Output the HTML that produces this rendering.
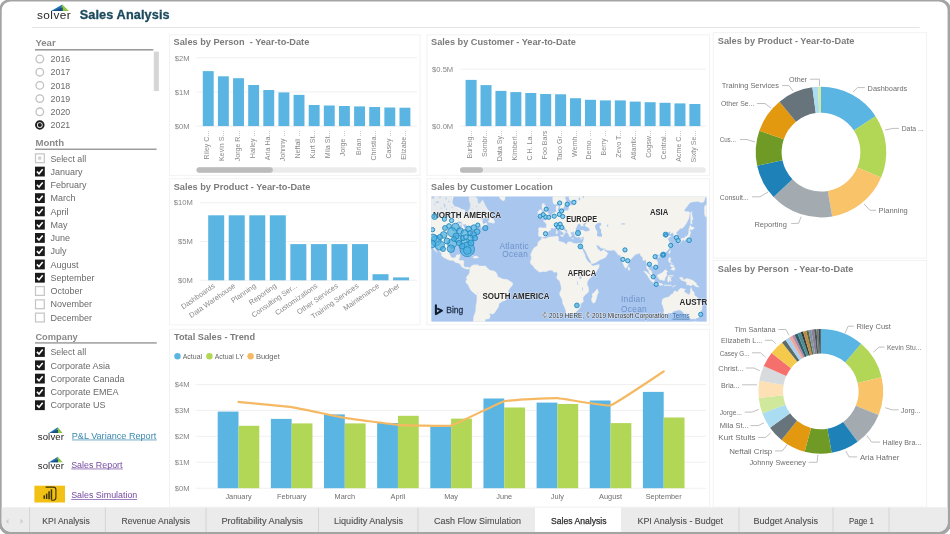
<!DOCTYPE html>
<html><head><meta charset="utf-8"><title>Sales Analysis</title>
<style>
html,body{margin:0;padding:0;background:#fff;}
body{width:950px;height:534px;overflow:hidden;font-family:"Liberation Sans",sans-serif;}
svg{display:block;font-family:"Liberation Sans",sans-serif;will-change:transform;transform:translateZ(0);}
</style></head><body>
<svg width="950" height="534" viewBox="0 0 950 534">
<rect x="-1" y="-1" width="952" height="536" rx="11.5" ry="11.5" fill="#a4a4a4"/>
<rect x="1.7" y="1.5" width="945.9" height="530.2" rx="8.8" ry="8.8" fill="#ffffff"/>
<clipPath id="inner"><rect x="1.7" y="1.5" width="945.9" height="530.2" rx="8.8" ry="8.8"/></clipPath>
<g clip-path="url(#inner)">
<rect x="0" y="507.3" width="950" height="26" fill="#ebebeb"/>
<rect x="535" y="507.3" width="86" height="26" fill="#ffffff"/>
<rect x="29.1" y="507.3" width="1" height="25" fill="#d4d4d4"/>
<rect x="104.8" y="507.3" width="1" height="25" fill="#d4d4d4"/>
<rect x="205.5" y="507.3" width="1" height="25" fill="#d4d4d4"/>
<rect x="318.0" y="507.3" width="1" height="25" fill="#d4d4d4"/>
<rect x="417.5" y="507.3" width="1" height="25" fill="#d4d4d4"/>
<rect x="738.5" y="507.3" width="1" height="25" fill="#d4d4d4"/>
<rect x="832.5" y="507.3" width="1" height="25" fill="#d4d4d4"/>
<rect x="888.5" y="507.3" width="1" height="25" fill="#d4d4d4"/>
<text x="42.25" y="524.00" font-size="9.0" fill="#505050" font-weight="normal" text-anchor="start" textLength="47.5" lengthAdjust="spacingAndGlyphs" stroke="#505050" stroke-width="0.12">KPI Analysis</text>
<text x="121.50" y="524.00" font-size="9.0" fill="#505050" font-weight="normal" text-anchor="start" textLength="68.5" lengthAdjust="spacingAndGlyphs" stroke="#505050" stroke-width="0.12">Revenue Analysis</text>
<text x="221.40" y="524.00" font-size="9.0" fill="#505050" font-weight="normal" text-anchor="start" textLength="81.6" lengthAdjust="spacingAndGlyphs" stroke="#505050" stroke-width="0.12">Profitability Analysis</text>
<text x="334.00" y="524.00" font-size="9.0" fill="#505050" font-weight="normal" text-anchor="start" textLength="69" lengthAdjust="spacingAndGlyphs" stroke="#505050" stroke-width="0.12">Liquidity Analysis</text>
<text x="434.00" y="524.00" font-size="9.0" fill="#505050" font-weight="normal" text-anchor="start" textLength="87" lengthAdjust="spacingAndGlyphs" stroke="#505050" stroke-width="0.12">Cash Flow Simulation</text>
<text x="551.00" y="524.00" font-size="9.0" fill="#2a2a2a" font-weight="normal" text-anchor="start" textLength="55.5" lengthAdjust="spacingAndGlyphs" stroke="#2a2a2a" stroke-width="0.25">Sales Analysis</text>
<text x="637.50" y="524.00" font-size="9.0" fill="#505050" font-weight="normal" text-anchor="start" textLength="85.5" lengthAdjust="spacingAndGlyphs" stroke="#505050" stroke-width="0.12">KPI Analysis - Budget</text>
<text x="753.50" y="524.00" font-size="9.0" fill="#505050" font-weight="normal" text-anchor="start" textLength="64.5" lengthAdjust="spacingAndGlyphs" stroke="#505050" stroke-width="0.12">Budget Analysis</text>
<text x="849.00" y="524.00" font-size="9.0" fill="#505050" font-weight="normal" text-anchor="start" textLength="25" lengthAdjust="spacingAndGlyphs" stroke="#505050" stroke-width="0.12">Page 1</text>
<path d="M8.5 518.7 l-2.8 2.6 l2.8 2.6z" fill="#cfcfcf"/>
<path d="M20.5 518.7 l2.8 2.6 l-2.8 2.6z" fill="#cfcfcf"/>
</g>
<text x="37" y="19.2" font-size="11.8" fill="#262626" letter-spacing="0.45">solver</text>
<path d="M51.00 10.90 L62.40 4.40 L63.29 10.90Z" fill="#2173b5"/>
<path d="M62.40 4.40 L68.80 10.90 L60.26 10.90Z" fill="#8cc540"/>
<path d="M52.78 10.90 L62.76 7.33 L62.75 10.90Z" fill="#1c4f80"/>
<text x="79.70" y="19.20" font-size="12.7" fill="#1b495c" font-weight="bold" text-anchor="start" stroke="#1b495c" stroke-width="0.3" letter-spacing="0.12">Sales Analysis</text>
<rect x="32" y="27" width="887.6" height="1" fill="#e2e4e6"/>
<text x="35.40" y="45.50" font-size="9.6" fill="#8a8a8a" font-weight="bold" text-anchor="start" >Year</text>
<rect x="35" y="49.15" width="118.3" height="1.35" fill="#8a8a8a"/>
<rect x="153.8" y="51.6" width="5.1" height="39.5" fill="#d6d6d6"/>
<circle cx="39.8" cy="59" r="3.8" fill="#fff" stroke="#c0c0c0" stroke-width="1.3"/>
<text x="50.60" y="62.20" font-size="8.8" fill="#6a6a6a" font-weight="normal" text-anchor="start" >2016</text>
<circle cx="39.8" cy="72.2" r="3.8" fill="#fff" stroke="#c0c0c0" stroke-width="1.3"/>
<text x="50.60" y="75.40" font-size="8.8" fill="#6a6a6a" font-weight="normal" text-anchor="start" >2017</text>
<circle cx="39.8" cy="85.4" r="3.8" fill="#fff" stroke="#c0c0c0" stroke-width="1.3"/>
<text x="50.60" y="88.60" font-size="8.8" fill="#6a6a6a" font-weight="normal" text-anchor="start" >2018</text>
<circle cx="39.8" cy="98.6" r="3.8" fill="#fff" stroke="#c0c0c0" stroke-width="1.3"/>
<text x="50.60" y="101.80" font-size="8.8" fill="#6a6a6a" font-weight="normal" text-anchor="start" >2019</text>
<circle cx="39.8" cy="111.8" r="3.8" fill="#fff" stroke="#c0c0c0" stroke-width="1.3"/>
<text x="50.60" y="115.00" font-size="8.8" fill="#6a6a6a" font-weight="normal" text-anchor="start" >2020</text>
<circle cx="39.8" cy="125" r="3.8" fill="#fff" stroke="#1e1e1e" stroke-width="1.9"/>
<circle cx="39.8" cy="125" r="2.1" fill="#1e1e1e"/>
<text x="50.60" y="128.20" font-size="8.8" fill="#6a6a6a" font-weight="normal" text-anchor="start" >2021</text>
<text x="35.40" y="146.30" font-size="9.6" fill="#8a8a8a" font-weight="bold" text-anchor="start" >Month</text>
<rect x="35" y="148.6" width="121.6" height="1.25" fill="#8a8a8a"/>
<rect x="35.5" y="153.9" width="8.8" height="8.8" fill="#fff" stroke="#c6c6c6" stroke-width="1.25"/>
<rect x="38.2" y="156.6" width="3" height="3" fill="#cdcdcd"/>
<text x="50.40" y="161.50" font-size="8.8" fill="#6a6a6a" font-weight="normal" text-anchor="start" >Select all</text>
<rect x="35" y="166.67000000000002" width="9.8" height="9.8" fill="#1a1a1a"/>
<path d="M36.9 171.47000000000003 l2.1 2.2 l3.7 -4.5" fill="none" stroke="#fff" stroke-width="1.6"/>
<text x="50.40" y="174.77" font-size="9.0" fill="#6a6a6a" font-weight="normal" text-anchor="start" >January</text>
<rect x="35" y="179.94" width="9.8" height="9.8" fill="#1a1a1a"/>
<path d="M36.9 184.74 l2.1 2.2 l3.7 -4.5" fill="none" stroke="#fff" stroke-width="1.6"/>
<text x="50.40" y="188.04" font-size="9.0" fill="#6a6a6a" font-weight="normal" text-anchor="start" >February</text>
<rect x="35" y="193.21" width="9.8" height="9.8" fill="#1a1a1a"/>
<path d="M36.9 198.01000000000002 l2.1 2.2 l3.7 -4.5" fill="none" stroke="#fff" stroke-width="1.6"/>
<text x="50.40" y="201.31" font-size="9.0" fill="#6a6a6a" font-weight="normal" text-anchor="start" >March</text>
<rect x="35" y="206.48" width="9.8" height="9.8" fill="#1a1a1a"/>
<path d="M36.9 211.28 l2.1 2.2 l3.7 -4.5" fill="none" stroke="#fff" stroke-width="1.6"/>
<text x="50.40" y="214.58" font-size="9.0" fill="#6a6a6a" font-weight="normal" text-anchor="start" >April</text>
<rect x="35" y="219.75" width="9.8" height="9.8" fill="#1a1a1a"/>
<path d="M36.9 224.55 l2.1 2.2 l3.7 -4.5" fill="none" stroke="#fff" stroke-width="1.6"/>
<text x="50.40" y="227.85" font-size="9.0" fill="#6a6a6a" font-weight="normal" text-anchor="start" >May</text>
<rect x="35" y="233.02" width="9.8" height="9.8" fill="#1a1a1a"/>
<path d="M36.9 237.82000000000002 l2.1 2.2 l3.7 -4.5" fill="none" stroke="#fff" stroke-width="1.6"/>
<text x="50.40" y="241.12" font-size="9.0" fill="#6a6a6a" font-weight="normal" text-anchor="start" >June</text>
<rect x="35" y="246.29" width="9.8" height="9.8" fill="#1a1a1a"/>
<path d="M36.9 251.09 l2.1 2.2 l3.7 -4.5" fill="none" stroke="#fff" stroke-width="1.6"/>
<text x="50.40" y="254.39" font-size="9.0" fill="#6a6a6a" font-weight="normal" text-anchor="start" >July</text>
<rect x="35" y="259.56000000000006" width="9.8" height="9.8" fill="#1a1a1a"/>
<path d="M36.9 264.36000000000007 l2.1 2.2 l3.7 -4.5" fill="none" stroke="#fff" stroke-width="1.6"/>
<text x="50.40" y="267.66" font-size="9.0" fill="#6a6a6a" font-weight="normal" text-anchor="start" >August</text>
<rect x="35" y="272.83000000000004" width="9.8" height="9.8" fill="#1a1a1a"/>
<path d="M36.9 277.63000000000005 l2.1 2.2 l3.7 -4.5" fill="none" stroke="#fff" stroke-width="1.6"/>
<text x="50.40" y="280.93" font-size="9.0" fill="#6a6a6a" font-weight="normal" text-anchor="start" >September</text>
<rect x="35.5" y="286.6" width="8.8" height="8.8" fill="#fff" stroke="#c6c6c6" stroke-width="1.25"/>
<text x="50.40" y="294.20" font-size="9.0" fill="#6a6a6a" font-weight="normal" text-anchor="start" >October</text>
<rect x="35.5" y="299.87" width="8.8" height="8.8" fill="#fff" stroke="#c6c6c6" stroke-width="1.25"/>
<text x="50.40" y="307.47" font-size="9.0" fill="#6a6a6a" font-weight="normal" text-anchor="start" >November</text>
<rect x="35.5" y="313.14000000000004" width="8.8" height="8.8" fill="#fff" stroke="#c6c6c6" stroke-width="1.25"/>
<text x="50.40" y="320.74" font-size="9.0" fill="#6a6a6a" font-weight="normal" text-anchor="start" >December</text>
<text x="35.40" y="340.00" font-size="9.3" fill="#8a8a8a" font-weight="bold" text-anchor="start" >Company</text>
<rect x="35" y="342.3" width="121.8" height="1.25" fill="#8a8a8a"/>
<rect x="35" y="347.1" width="9.8" height="9.8" fill="#1a1a1a"/>
<path d="M36.9 351.90000000000003 l2.1 2.2 l3.7 -4.5" fill="none" stroke="#fff" stroke-width="1.6"/>
<text x="50.40" y="355.20" font-size="8.8" fill="#6a6a6a" font-weight="normal" text-anchor="start" >Select all</text>
<rect x="35" y="360.40000000000003" width="9.8" height="9.8" fill="#1a1a1a"/>
<path d="M36.9 365.20000000000005 l2.1 2.2 l3.7 -4.5" fill="none" stroke="#fff" stroke-width="1.6"/>
<text x="50.40" y="368.50" font-size="9.0" fill="#6a6a6a" font-weight="normal" text-anchor="start" >Corporate Asia</text>
<rect x="35" y="373.70000000000005" width="9.8" height="9.8" fill="#1a1a1a"/>
<path d="M36.9 378.50000000000006 l2.1 2.2 l3.7 -4.5" fill="none" stroke="#fff" stroke-width="1.6"/>
<text x="50.40" y="381.80" font-size="9.0" fill="#6a6a6a" font-weight="normal" text-anchor="start" >Corporate Canada</text>
<rect x="35" y="387.0" width="9.8" height="9.8" fill="#1a1a1a"/>
<path d="M36.9 391.8 l2.1 2.2 l3.7 -4.5" fill="none" stroke="#fff" stroke-width="1.6"/>
<text x="50.40" y="395.10" font-size="9.0" fill="#6a6a6a" font-weight="normal" text-anchor="start" >Corporate EMEA</text>
<rect x="35" y="400.3" width="9.8" height="9.8" fill="#1a1a1a"/>
<path d="M36.9 405.1 l2.1 2.2 l3.7 -4.5" fill="none" stroke="#fff" stroke-width="1.6"/>
<text x="50.40" y="408.40" font-size="9.0" fill="#6a6a6a" font-weight="normal" text-anchor="start" >Corporate US</text>
<text x="37.7" y="439.6" font-size="9.6" fill="#262626" letter-spacing="0.15">solver</text>
<path d="M49.00 433.00 L57.80 427.20 L58.48 433.00Z" fill="#2173b5"/>
<path d="M57.80 427.20 L62.60 433.00 L56.07 433.00Z" fill="#8cc540"/>
<path d="M50.36 433.00 L58.07 429.81 L57.98 433.00Z" fill="#1c4f80"/>
<text x="71.80" y="438.80" font-size="9.1" fill="#3a88ad" font-weight="normal" text-anchor="start" >P&amp;L Variance Report</text>
<rect x="71.8" y="439.6" width="85" height="0.7" fill="#3a88ad"/>
<text x="37.7" y="468.6" font-size="9.6" fill="#262626" letter-spacing="0.15">solver</text>
<path d="M49.00 462.30 L57.80 456.70 L58.48 462.30Z" fill="#2173b5"/>
<path d="M57.80 456.70 L62.60 462.30 L56.07 462.30Z" fill="#8cc540"/>
<path d="M50.36 462.30 L58.07 459.22 L57.98 462.30Z" fill="#1c4f80"/>
<text x="71.20" y="467.80" font-size="8.9" fill="#7449a0" font-weight="normal" text-anchor="start" >Sales Report</text>
<rect x="71.2" y="468.6" width="51.5" height="0.7" fill="#7449a0"/>
<rect x="34.4" y="485.7" width="30.6" height="16.8" fill="#f2c114"/>
<path d="M45.6 487.1 H53.3 a2.6 2.6 0 0 1 2.6 2.6 V497.6 a2.6 2.6 0 0 1 -2.6 2.6 H51.2" fill="none" stroke="#3b3205" stroke-width="1.1"/>
<g fill="#3b3205"><rect x="43.5" y="495.4" width="1.5" height="3.4"/><rect x="45.9" y="493.6" width="1.5" height="5.4"/><rect x="48.3" y="491.3" width="1.5" height="8"/><rect x="50.7" y="489.3" width="1.5" height="10.3"/></g>
<text x="71.20" y="498.40" font-size="8.9" fill="#7449a0" font-weight="normal" text-anchor="start" >Sales Simulation</text>
<rect x="71.2" y="499.2" width="66" height="0.7" fill="#7449a0"/>
<rect x="169.5" y="34.8" width="250.5" height="140.60000000000002" fill="#fff" stroke="#f2f2f2" stroke-width="1"/>
<text x="173.60" y="45.00" font-size="9.2" fill="#7b7b7b" font-weight="bold" text-anchor="start" >Sales by Person  - Year-to-Date</text>
<rect x="196" y="57.2" width="221" height="1" fill="#f0f0f0"/>
<text x="189.60" y="60.50" font-size="7.6" fill="#858585" font-weight="normal" text-anchor="end" >$2M</text>
<rect x="196" y="91.4" width="221" height="1" fill="#f0f0f0"/>
<text x="189.60" y="94.70" font-size="7.6" fill="#858585" font-weight="normal" text-anchor="end" >$1M</text>
<rect x="196" y="125.6" width="221" height="1" fill="#f0f0f0"/>
<text x="189.60" y="128.90" font-size="7.6" fill="#858585" font-weight="normal" text-anchor="end" >$0M</text>
<rect x="202.80" y="71.1" width="10.9" height="55.00" fill="#5bb5e2"/>
<text transform="translate(209.25,130.6) rotate(-90)" font-size="7.1" fill="#8a8a8a" text-anchor="end">Riley C...</text>
<rect x="217.93" y="76.3" width="10.9" height="49.80" fill="#5bb5e2"/>
<text transform="translate(224.38,130.6) rotate(-90)" font-size="7.1" fill="#8a8a8a" text-anchor="end">Kevin S...</text>
<rect x="233.06" y="78.2" width="10.9" height="47.90" fill="#5bb5e2"/>
<text transform="translate(239.51,130.6) rotate(-90)" font-size="7.1" fill="#8a8a8a" text-anchor="end">Jorge R...</text>
<rect x="248.19" y="85" width="10.9" height="41.10" fill="#5bb5e2"/>
<text transform="translate(254.64,130.6) rotate(-90)" font-size="7.1" fill="#8a8a8a" text-anchor="end">Hailey ...</text>
<rect x="263.32" y="90" width="10.9" height="36.10" fill="#5bb5e2"/>
<text transform="translate(269.77,130.6) rotate(-90)" font-size="7.1" fill="#8a8a8a" text-anchor="end">Aria Ha...</text>
<rect x="278.45" y="92.4" width="10.9" height="33.70" fill="#5bb5e2"/>
<text transform="translate(284.90,130.6) rotate(-90)" font-size="7.1" fill="#8a8a8a" text-anchor="end">Johnny ...</text>
<rect x="293.58" y="94.9" width="10.9" height="31.20" fill="#5bb5e2"/>
<text transform="translate(300.03,130.6) rotate(-90)" font-size="7.1" fill="#8a8a8a" text-anchor="end">Neftali ...</text>
<rect x="308.71" y="105" width="10.9" height="21.10" fill="#5bb5e2"/>
<text transform="translate(315.16,130.6) rotate(-90)" font-size="7.1" fill="#8a8a8a" text-anchor="end">Kurt St...</text>
<rect x="323.84" y="105.5" width="10.9" height="20.60" fill="#5bb5e2"/>
<text transform="translate(330.29,130.6) rotate(-90)" font-size="7.1" fill="#8a8a8a" text-anchor="end">Mila St...</text>
<rect x="338.97" y="106" width="10.9" height="20.10" fill="#5bb5e2"/>
<text transform="translate(345.42,130.6) rotate(-90)" font-size="7.1" fill="#8a8a8a" text-anchor="end">Jorge ...</text>
<rect x="354.10" y="106.4" width="10.9" height="19.70" fill="#5bb5e2"/>
<text transform="translate(360.55,130.6) rotate(-90)" font-size="7.1" fill="#8a8a8a" text-anchor="end">Brian ...</text>
<rect x="369.23" y="107" width="10.9" height="19.10" fill="#5bb5e2"/>
<text transform="translate(375.68,130.6) rotate(-90)" font-size="7.1" fill="#8a8a8a" text-anchor="end">Christia...</text>
<rect x="384.36" y="107.5" width="10.9" height="18.60" fill="#5bb5e2"/>
<text transform="translate(390.81,130.6) rotate(-90)" font-size="7.1" fill="#8a8a8a" text-anchor="end">Casey ...</text>
<rect x="399.49" y="107.7" width="10.9" height="18.40" fill="#5bb5e2"/>
<text transform="translate(405.94,130.6) rotate(-90)" font-size="7.1" fill="#8a8a8a" text-anchor="end">Elizabe...</text>
<rect x="196.5" y="167.3" width="220.3" height="5.4" rx="2.7" fill="#ebebeb"/>
<rect x="196.5" y="167.3" width="76.3" height="5.4" rx="2.7" fill="#bcbcbc"/>
<rect x="427" y="34.8" width="282.5" height="140.60000000000002" fill="#fff" stroke="#f2f2f2" stroke-width="1"/>
<text x="431.00" y="45.00" font-size="9.2" fill="#7b7b7b" font-weight="bold" text-anchor="start" >Sales by Customer - Year-to-Date</text>
<rect x="460" y="68.7" width="246" height="1" fill="#f0f0f0"/>
<text x="453.20" y="72.00" font-size="7.6" fill="#858585" font-weight="normal" text-anchor="end" >$0.5M</text>
<rect x="460" y="125.6" width="246" height="1" fill="#f0f0f0"/>
<text x="453.20" y="128.90" font-size="7.6" fill="#858585" font-weight="normal" text-anchor="end" >$0.0M</text>
<rect x="465.60" y="79.9" width="11" height="46.20" fill="#5bb5e2"/>
<text transform="translate(472.10,130.6) rotate(-90)" font-size="7.1" fill="#8a8a8a" text-anchor="end">Burleig...</text>
<rect x="480.52" y="85.1" width="11" height="41.00" fill="#5bb5e2"/>
<text transform="translate(487.02,130.6) rotate(-90)" font-size="7.1" fill="#8a8a8a" text-anchor="end">Sombr...</text>
<rect x="495.44" y="90.9" width="11" height="35.20" fill="#5bb5e2"/>
<text transform="translate(501.94,130.6) rotate(-90)" font-size="7.1" fill="#8a8a8a" text-anchor="end">Data Sy...</text>
<rect x="510.36" y="92.1" width="11" height="34.00" fill="#5bb5e2"/>
<text transform="translate(516.86,130.6) rotate(-90)" font-size="7.1" fill="#8a8a8a" text-anchor="end">Kimberl...</text>
<rect x="525.28" y="93" width="11" height="33.10" fill="#5bb5e2"/>
<text transform="translate(531.78,130.6) rotate(-90)" font-size="7.1" fill="#8a8a8a" text-anchor="end">C.H. La...</text>
<rect x="540.20" y="94" width="11" height="32.10" fill="#5bb5e2"/>
<text transform="translate(546.70,130.6) rotate(-90)" font-size="7.1" fill="#8a8a8a" text-anchor="end">Foo Bars</text>
<rect x="555.12" y="94.3" width="11" height="31.80" fill="#5bb5e2"/>
<text transform="translate(561.62,130.6) rotate(-90)" font-size="7.1" fill="#8a8a8a" text-anchor="end">Taco Gr...</text>
<rect x="570.04" y="98.2" width="11" height="27.90" fill="#5bb5e2"/>
<text transform="translate(576.54,130.6) rotate(-90)" font-size="7.1" fill="#8a8a8a" text-anchor="end">Wemh...</text>
<rect x="584.96" y="99.8" width="11" height="26.30" fill="#5bb5e2"/>
<text transform="translate(591.46,130.6) rotate(-90)" font-size="7.1" fill="#8a8a8a" text-anchor="end">Demo, ...</text>
<rect x="599.88" y="100.4" width="11" height="25.70" fill="#5bb5e2"/>
<text transform="translate(606.38,130.6) rotate(-90)" font-size="7.1" fill="#8a8a8a" text-anchor="end">Berry ...</text>
<rect x="614.80" y="100.4" width="11" height="25.70" fill="#5bb5e2"/>
<text transform="translate(621.30,130.6) rotate(-90)" font-size="7.1" fill="#8a8a8a" text-anchor="end">Zevo T...</text>
<rect x="629.72" y="101.6" width="11" height="24.50" fill="#5bb5e2"/>
<text transform="translate(636.22,130.6) rotate(-90)" font-size="7.1" fill="#8a8a8a" text-anchor="end">Atlantic...</text>
<rect x="644.64" y="102.2" width="11" height="23.90" fill="#5bb5e2"/>
<text transform="translate(651.14,130.6) rotate(-90)" font-size="7.1" fill="#8a8a8a" text-anchor="end">Cogsw...</text>
<rect x="659.56" y="102.8" width="11" height="23.30" fill="#5bb5e2"/>
<text transform="translate(666.06,130.6) rotate(-90)" font-size="7.1" fill="#8a8a8a" text-anchor="end">Central...</text>
<rect x="674.48" y="103.4" width="11" height="22.70" fill="#5bb5e2"/>
<text transform="translate(680.98,130.6) rotate(-90)" font-size="7.1" fill="#8a8a8a" text-anchor="end">Acme C...</text>
<rect x="689.40" y="104" width="11" height="22.10" fill="#5bb5e2"/>
<text transform="translate(695.90,130.6) rotate(-90)" font-size="7.1" fill="#8a8a8a" text-anchor="end">Sixty Se...</text>
<rect x="460" y="167.3" width="245.8" height="5.4" rx="2.7" fill="#ebebeb"/>
<rect x="460" y="167.3" width="23" height="5.4" rx="2.7" fill="#bcbcbc"/>
<rect x="169.5" y="178.7" width="250.5" height="146.10000000000002" fill="#fff" stroke="#f2f2f2" stroke-width="1"/>
<text x="173.70" y="189.80" font-size="9.2" fill="#7b7b7b" font-weight="bold" text-anchor="start" >Sales by Product - Year-to-Date</text>
<rect x="200" y="202.2" width="217" height="1" fill="#f0f0f0"/>
<text x="192.80" y="205.20" font-size="7.6" fill="#858585" font-weight="normal" text-anchor="end" >$10M</text>
<rect x="200" y="241.0" width="217" height="1" fill="#f0f0f0"/>
<text x="192.80" y="244.00" font-size="7.6" fill="#858585" font-weight="normal" text-anchor="end" >$5M</text>
<rect x="200" y="279.8" width="217" height="1" fill="#f0f0f0"/>
<text x="192.80" y="282.80" font-size="7.6" fill="#858585" font-weight="normal" text-anchor="end" >$0M</text>
<rect x="208.20" y="215.3" width="16" height="65.00" fill="#5bb5e2"/>
<text transform="translate(215.40,287) rotate(-35)" font-size="7.3" fill="#8a8a8a" text-anchor="end">Dashboards</text>
<rect x="228.74" y="215.3" width="16" height="65.00" fill="#5bb5e2"/>
<text transform="translate(235.94,287) rotate(-35)" font-size="7.3" fill="#8a8a8a" text-anchor="end">Data Warehouse</text>
<rect x="249.28" y="215.3" width="16" height="65.00" fill="#5bb5e2"/>
<text transform="translate(256.48,287) rotate(-35)" font-size="7.3" fill="#8a8a8a" text-anchor="end">Planning</text>
<rect x="269.82" y="215.3" width="16" height="65.00" fill="#5bb5e2"/>
<text transform="translate(277.02,287) rotate(-35)" font-size="7.3" fill="#8a8a8a" text-anchor="end">Reporting</text>
<rect x="290.36" y="244.1" width="16" height="36.20" fill="#5bb5e2"/>
<text transform="translate(297.56,287) rotate(-35)" font-size="7.3" fill="#8a8a8a" text-anchor="end">Consulting Ser...</text>
<rect x="310.90" y="244.1" width="16" height="36.20" fill="#5bb5e2"/>
<text transform="translate(318.10,287) rotate(-35)" font-size="7.3" fill="#8a8a8a" text-anchor="end">Customizations</text>
<rect x="331.44" y="244.1" width="16" height="36.20" fill="#5bb5e2"/>
<text transform="translate(338.64,287) rotate(-35)" font-size="7.3" fill="#8a8a8a" text-anchor="end">Other Services</text>
<rect x="351.98" y="244.1" width="16" height="36.20" fill="#5bb5e2"/>
<text transform="translate(359.18,287) rotate(-35)" font-size="7.3" fill="#8a8a8a" text-anchor="end">Training Services</text>
<rect x="372.52" y="274.2" width="16" height="6.10" fill="#5bb5e2"/>
<text transform="translate(379.72,287) rotate(-35)" font-size="7.3" fill="#8a8a8a" text-anchor="end">Maintenance</text>
<rect x="393.06" y="277.4" width="16" height="2.90" fill="#5bb5e2"/>
<text transform="translate(400.26,287) rotate(-35)" font-size="7.3" fill="#8a8a8a" text-anchor="end">Other</text>
<rect x="427" y="178.7" width="282.5" height="146.10000000000002" fill="#fff" stroke="#f2f2f2" stroke-width="1"/>
<text x="431.10" y="190.30" font-size="9.05" fill="#7b7b7b" font-weight="bold" text-anchor="start" >Sales by Customer Location</text>
<clipPath id="mapclip"><rect x="431.2" y="196.3" width="275.59999999999997" height="125.5"/></clipPath>
<g clip-path="url(#mapclip)">
<rect x="431.2" y="196.3" width="275.59999999999997" height="125.5" fill="#a8c6ee"/>
<path d="M428.9 193.2 L454.0 193.2 L452.5 200.6 L452.2 203.0 L454.6 206.4 L458.1 207.3 L462.1 209.5 L464.8 209.8 L465.1 213.4 L466.6 216.2 L468.1 215.9 L468.1 211.7 L470.2 208.2 L470.7 204.5 L469.2 200.6 L469.2 195.8 L474.2 195.8 L477.2 198.6 L477.7 202.6 L479.2 204.1 L481.7 201.6 L482.7 200.0 L485.3 205.5 L487.3 209.1 L489.8 211.7 L491.6 215.1 L490.3 216.2 L487.3 218.0 L481.2 218.0 L480.2 219.4 L482.7 219.8 L482.2 222.1 L483.3 224.3 L486.3 222.8 L487.3 224.3 L483.8 226.5 L481.2 227.9 L481.2 225.7 L480.2 226.0 L477.2 227.9 L476.5 229.9 L477.2 230.3 L473.2 231.9 L471.7 235.2 L471.2 238.9 L469.2 240.4 L466.1 243.1 L466.9 248.3 L466.8 250.4 L465.3 249.5 L464.4 247.4 L463.1 244.9 L461.1 244.6 L457.6 244.7 L457.8 246.1 L455.6 245.5 L452.5 245.5 L449.8 247.8 L449.5 250.6 L449.2 253.6 L451.0 257.1 L452.5 258.0 L455.6 257.6 L456.6 255.0 L460.1 254.4 L459.6 257.6 L458.6 260.3 L463.1 260.5 L463.9 261.3 L463.6 265.5 L465.1 267.5 L467.6 267.0 L469.7 268.0 L469.7 268.5 L467.1 269.2 L464.1 268.2 L461.3 266.5 L459.6 263.4 L455.6 262.4 L453.0 260.3 L450.5 260.6 L447.0 259.2 L443.0 257.1 L441.5 255.5 L441.5 253.3 L438.9 250.6 L437.4 248.3 L434.9 246.1 L433.9 243.7 L432.1 243.1 L432.4 244.9 L434.4 247.8 L436.4 251.1 L437.4 252.8 L434.9 250.6 L432.9 247.8 L431.4 245.5 L428.9 243.7Z M488.1 222.0 L491.3 222.8 L494.3 223.3 L494.6 222.0 L493.8 219.5 L491.5 218.3 L491.8 215.9 L490.0 217.2 L488.8 220.6Z M498.4 193.2 L499.9 198.6 L503.4 201.0 L504.6 200.0 L505.9 193.2Z M462.1 254.0 L465.1 252.7 L467.1 252.8 L470.2 254.4 L473.0 255.8 L469.7 256.1 L469.2 255.3 L466.1 253.9 L463.1 254.1Z M472.8 257.7 L474.4 256.1 L477.2 256.3 L478.8 257.5 L476.7 258.0 L475.2 258.2Z M469.7 268.0 L471.7 265.7 L475.2 264.4 L475.7 265.5 L477.2 264.4 L479.2 266.0 L483.3 266.0 L485.3 265.8 L487.3 268.0 L490.3 270.5 L493.3 270.7 L495.8 272.1 L497.4 275.1 L497.4 276.6 L499.4 277.6 L502.9 279.1 L507.4 279.6 L510.4 281.6 L512.5 282.7 L512.7 284.7 L510.4 287.7 L508.4 290.3 L508.4 294.5 L506.9 298.2 L505.4 300.4 L502.4 301.3 L498.9 303.7 L498.7 306.6 L495.3 311.8 L493.3 314.0 L490.3 313.7 L488.9 313.0 L490.3 316.1 L489.3 318.7 L485.3 319.3 L485.0 321.5 L482.2 323.3 L473.2 323.3 L473.7 316.8 L475.7 311.2 L475.9 306.0 L476.9 301.0 L476.9 295.3 L475.2 294.0 L471.2 290.8 L470.0 288.8 L468.1 284.7 L466.1 282.7 L465.8 280.9 L467.1 279.6 L466.2 278.6 L467.1 276.1 L468.3 275.1 L469.7 272.6 L469.8 269.7 L469.3 269.0Z M541.8 237.9 L545.7 238.7 L548.7 237.1 L552.7 236.7 L557.8 236.1 L558.8 238.9 L558.0 240.2 L559.8 241.6 L563.1 242.2 L566.8 244.6 L567.8 242.0 L570.9 241.7 L572.9 242.9 L576.9 243.7 L578.9 243.1 L580.4 243.5 L580.4 244.9 L581.4 247.2 L583.4 251.7 L585.0 255.0 L585.3 257.1 L587.0 260.3 L589.0 262.4 L591.3 263.9 L591.0 264.9 L593.0 266.0 L596.0 265.2 L599.3 264.6 L598.9 267.5 L596.0 272.1 L594.0 274.6 L590.0 278.1 L588.0 280.6 L587.0 283.2 L587.5 285.7 L588.5 287.7 L588.5 291.9 L585.0 295.0 L582.9 297.7 L583.4 301.5 L580.7 303.7 L580.4 307.1 L577.9 310.1 L574.9 312.8 L572.9 313.0 L567.8 314.0 L566.2 313.3 L565.8 310.6 L564.3 306.6 L562.8 303.7 L562.1 299.3 L559.8 295.0 L559.6 292.9 L561.3 289.3 L561.0 285.7 L560.0 282.7 L559.6 281.1 L557.3 279.1 L556.6 277.3 L557.3 275.6 L557.6 273.1 L556.3 272.1 L553.7 272.3 L552.2 270.2 L549.2 270.3 L545.7 271.8 L543.2 271.4 L540.1 272.2 L538.6 271.6 L536.1 269.6 L534.3 268.0 L533.8 266.7 L532.6 265.5 L530.9 263.9 L530.1 261.6 L531.1 259.7 L531.4 257.1 L530.6 255.0 L531.6 252.2 L533.1 249.2 L534.6 247.4 L536.6 246.3 L537.9 244.9 L537.8 243.1 L539.1 241.0 L540.9 239.9Z M597.3 288.8 L598.5 292.4 L597.5 294.0 L596.5 298.2 L595.0 302.6 L593.2 303.2 L591.7 301.0 L591.5 298.8 L592.5 296.6 L592.0 294.0 L594.0 292.7 L596.0 290.3Z M553.2 193.2 L552.7 198.6 L552.9 201.6 L553.7 204.0 L555.8 204.5 L558.3 202.2 L558.8 202.6 L559.3 204.5 L560.3 207.7 L560.8 209.3 L562.1 209.1 L563.8 207.3 L564.5 204.9 L566.3 201.6 L565.8 199.6 L565.0 198.6 L565.3 196.5 L567.8 193.2 L569.7 193.2 L569.1 196.5 L569.1 199.0 L570.4 200.6 L572.9 200.4 L575.4 199.6 L576.9 200.6 L578.1 200.8 L575.9 201.4 L572.4 201.6 L571.4 203.0 L572.2 204.0 L572.2 205.8 L570.4 205.1 L569.0 206.4 L568.8 209.5 L567.8 210.2 L567.3 211.0 L566.3 210.5 L564.3 211.0 L562.0 211.9 L560.3 211.2 L558.8 211.7 L557.8 210.9 L557.7 209.5 L558.5 207.3 L558.3 205.3 L556.0 206.4 L556.0 209.1 L556.5 211.7 L554.7 212.6 L552.5 213.4 L551.7 215.2 L550.2 216.7 L549.3 217.3 L547.9 218.9 L546.4 218.9 L546.1 220.3 L543.0 220.6 L544.9 222.3 L546.5 224.3 L546.2 227.9 L543.7 227.9 L539.6 227.6 L538.4 228.5 L538.8 231.3 L538.2 234.1 L538.8 236.3 L541.4 236.7 L542.1 237.7 L543.3 236.8 L545.7 236.7 L547.2 235.2 L547.9 233.9 L547.4 233.1 L548.5 231.3 L550.9 230.0 L550.7 228.3 L552.2 228.0 L554.2 228.4 L556.6 226.6 L558.1 227.9 L560.1 230.3 L561.8 231.5 L563.6 232.8 L563.5 235.2 L564.3 234.3 L564.8 233.2 L564.3 232.6 L566.2 232.6 L566.3 232.2 L563.8 230.0 L561.8 229.2 L560.1 226.7 L560.3 225.0 L561.5 224.9 L562.3 225.7 L563.3 227.4 L565.3 228.7 L567.2 230.6 L567.3 232.2 L568.8 234.8 L569.6 236.7 L570.7 237.1 L571.1 235.8 L571.9 235.2 L570.8 233.5 L570.6 232.1 L571.9 232.2 L573.9 231.5 L574.2 232.5 L574.1 233.2 L574.6 234.5 L575.2 236.4 L576.1 236.8 L577.4 237.4 L578.6 236.7 L579.9 237.6 L581.9 237.3 L584.0 236.8 L583.9 238.3 L583.5 240.8 L582.7 242.6 L582.1 243.4 L580.9 243.6 L580.4 244.9 L581.4 247.2 L582.1 247.4 L582.8 245.5 L582.9 247.2 L584.5 249.5 L586.5 252.8 L587.2 255.0 L589.0 258.2 L590.7 261.3 L591.5 263.7 L593.0 263.6 L596.0 262.4 L600.1 259.7 L603.1 258.7 L605.9 257.1 L607.9 253.3 L606.7 252.1 L604.5 250.7 L604.4 249.2 L603.1 250.3 L600.1 251.7 L599.6 250.0 L599.3 249.5 L598.6 250.6 L598.1 248.9 L596.6 246.6 L596.5 244.9 L598.6 245.5 L600.6 247.8 L603.1 248.6 L605.1 248.3 L605.6 249.9 L609.6 250.4 L614.7 250.1 L615.7 251.9 L617.0 252.8 L617.2 253.6 L618.5 255.2 L620.4 255.0 L621.0 257.1 L621.7 260.3 L623.0 263.6 L624.5 267.0 L625.7 268.4 L626.4 267.6 L627.5 266.2 L628.2 264.4 L628.5 262.9 L628.4 260.8 L630.6 259.6 L633.3 256.6 L635.3 254.4 L637.3 254.1 L638.8 253.3 L640.1 253.6 L640.6 255.5 L642.7 257.6 L642.9 260.3 L643.7 260.5 L645.9 259.7 L646.1 261.3 L646.9 264.4 L646.7 267.5 L646.7 268.5 L648.7 270.0 L648.9 272.1 L649.7 273.8 L651.9 275.2 L652.6 275.2 L651.8 273.1 L651.8 271.6 L650.4 270.2 L649.3 269.5 L648.4 267.5 L647.7 266.0 L648.4 263.0 L649.4 263.7 L650.9 264.4 L651.9 266.0 L653.2 266.1 L653.2 267.8 L655.1 266.1 L656.5 265.7 L657.7 264.8 L657.8 262.9 L657.3 261.0 L656.0 259.4 L654.1 257.1 L655.0 255.2 L656.5 254.3 L658.3 254.4 L659.0 255.6 L659.5 254.4 L662.0 253.6 L662.8 253.3 L665.0 252.8 L667.0 250.9 L668.2 249.5 L670.1 246.9 L670.4 244.9 L669.0 244.3 L670.4 243.7 L669.3 242.0 L667.8 239.2 L668.8 237.4 L671.1 236.4 L669.5 235.7 L667.5 236.1 L666.3 234.5 L666.5 233.6 L669.5 231.5 L670.6 231.9 L669.8 233.9 L672.9 232.6 L673.8 234.3 L673.4 235.2 L675.0 235.8 L675.0 239.3 L676.1 239.3 L677.9 238.3 L678.0 236.4 L676.9 234.3 L676.1 232.8 L678.3 230.6 L679.3 229.5 L680.6 228.1 L681.8 228.8 L684.1 226.5 L686.7 222.8 L689.0 218.3 L689.4 215.1 L690.0 213.1 L688.5 211.4 L686.2 211.7 L683.9 210.4 L686.5 207.3 L689.2 203.6 L691.7 202.0 L694.7 201.8 L697.7 201.2 L700.8 202.6 L703.8 202.0 L705.3 197.5 L708.8 196.5 L708.8 193.2Z M705.5 216.9 L704.5 214.3 L704.4 210.0 L704.5 206.4 L705.8 204.9 L708.8 203.6 L708.8 215.1Z M542.0 218.3 L544.2 217.8 L546.7 217.2 L549.0 216.4 L549.2 213.9 L548.0 213.4 L547.6 211.7 L546.2 210.0 L545.7 208.2 L544.9 207.7 L545.7 205.3 L543.7 205.3 L544.5 203.4 L542.7 203.4 L541.9 205.5 L542.2 208.2 L542.9 210.0 L544.5 210.2 L544.7 212.1 L544.6 212.9 L543.2 212.9 L543.5 214.6 L542.5 215.4 L544.2 215.9 L544.7 216.4 L543.4 216.5Z M541.7 214.8 L541.5 212.6 L542.2 210.9 L541.4 209.7 L539.4 209.8 L539.0 211.2 L537.6 211.7 L538.1 213.1 L537.8 214.8 L537.4 215.4 L539.1 215.7 L540.7 214.9Z M560.3 235.2 L563.4 234.9 L563.0 236.8 L560.3 235.7Z M556.0 231.3 L557.5 231.3 L557.4 233.6 L556.3 233.9Z M556.4 228.7 L557.3 228.8 L557.1 230.6 L556.5 230.2Z M571.5 238.3 L574.1 238.7 L572.4 238.9Z M580.2 238.9 L582.4 238.2 L581.7 239.3Z M628.3 266.8 L629.6 268.0 L630.1 269.5 L628.9 270.5 L628.1 269.5 L628.1 268.0Z M679.5 240.2 L680.6 239.1 L681.9 238.3 L684.7 238.1 L685.5 236.2 L686.0 236.7 L687.2 235.9 L688.2 234.5 L688.7 232.6 L688.7 231.0 L690.1 230.7 L690.7 233.2 L689.7 235.2 L689.5 237.7 L688.7 238.9 L687.5 239.3 L685.7 239.4 L685.5 239.7 L684.5 240.8 L683.6 239.8 L681.6 239.9 L682.6 240.8 L681.6 241.6 L680.9 240.8 L680.6 241.6 L679.9 243.3 L678.9 243.4 L678.8 242.0 L678.4 241.0Z M688.7 230.6 L689.0 228.5 L690.4 225.2 L691.7 226.9 L694.0 227.2 L694.2 228.3 L692.0 229.9 L690.2 229.2 L689.7 230.3Z M690.7 224.3 L692.2 223.6 L691.7 219.8 L693.2 219.8 L692.0 215.1 L691.7 211.4 L690.7 212.6 L690.7 218.3 L690.7 222.1Z M668.7 252.8 L670.1 250.4 L670.6 250.8 L669.4 253.9Z M657.2 256.9 L659.0 256.0 L659.5 256.6 L658.1 258.0Z M669.0 257.6 L670.8 257.9 L670.6 260.3 L670.1 261.8 L672.6 263.4 L672.1 263.6 L670.4 262.6 L669.1 262.4 L668.5 260.3Z M670.6 269.5 L672.1 268.0 L674.1 266.8 L675.1 269.0 L674.1 270.5 L672.6 270.0 L670.8 269.5Z M670.6 264.6 L672.6 264.9 L674.1 265.5 L673.6 266.5 L671.6 267.0 L670.6 266.0Z M657.5 275.1 L659.5 274.1 L661.5 273.1 L663.5 271.6 L665.3 269.5 L667.5 271.4 L666.3 273.1 L667.3 275.6 L666.0 276.1 L665.0 278.6 L664.5 280.6 L663.0 280.6 L661.5 279.8 L660.0 279.9 L658.5 278.1 L657.5 277.1Z M643.7 271.1 L645.9 271.4 L648.9 274.1 L651.9 276.6 L652.9 278.4 L654.4 279.8 L654.2 282.5 L652.9 282.3 L650.7 280.6 L648.9 278.1 L647.1 275.1 L645.4 273.1Z M653.6 283.5 L654.9 282.7 L657.0 283.3 L659.3 283.1 L661.2 283.6 L663.0 284.5 L662.8 285.3 L659.5 285.0 L656.5 284.5 L654.8 284.1Z M668.0 282.1 L667.5 279.6 L668.3 276.1 L669.5 275.3 L673.1 275.4 L673.6 275.0 L672.6 276.2 L669.5 276.1 L669.0 277.5 L671.6 277.5 L670.4 278.5 L671.3 281.1 L670.1 281.3 L669.5 279.4 L668.9 282.1Z M679.6 277.4 L682.6 277.4 L683.6 279.9 L686.7 278.4 L689.7 279.2 L693.2 280.5 L694.7 282.1 L696.5 283.3 L696.2 284.2 L699.3 287.0 L696.2 286.7 L692.7 284.4 L691.2 285.9 L688.2 284.7 L686.7 285.0 L686.4 281.9 L682.6 280.6 L681.4 280.6 L682.1 279.1 L680.6 279.4 L679.6 278.0Z M672.1 287.0 L675.6 285.1 L675.1 285.7 L672.6 287.0Z M664.0 284.9 L667.5 285.0 L671.4 285.0 L671.4 285.6 L667.5 285.6 L664.5 285.6Z M662.6 299.1 L665.3 297.8 L667.5 297.2 L669.8 296.6 L670.9 294.2 L672.2 294.3 L673.1 293.2 L674.6 290.8 L676.4 291.6 L677.6 291.9 L678.4 290.3 L679.4 289.2 L681.1 288.1 L683.6 289.0 L685.5 289.0 L684.7 290.3 L684.1 291.9 L686.2 292.9 L688.2 294.5 L689.5 294.5 L690.4 291.9 L690.4 289.6 L691.2 287.5 L692.5 291.2 L694.0 291.9 L694.7 295.6 L697.2 297.2 L698.2 299.6 L699.8 301.0 L701.8 303.2 L702.3 306.2 L701.8 309.5 L700.8 311.6 L699.8 313.4 L699.0 316.1 L698.8 317.4 L696.7 317.9 L695.0 319.3 L693.7 318.4 L692.2 319.1 L689.7 318.3 L688.2 316.1 L686.7 315.1 L687.0 313.7 L686.5 311.8 L686.2 314.0 L684.7 314.0 L684.1 313.9 L682.6 311.6 L680.1 310.1 L677.6 310.2 L674.6 311.0 L672.6 311.8 L672.1 312.9 L668.5 312.9 L666.5 314.3 L664.2 313.5 L663.5 312.6 L664.2 310.6 L663.5 308.3 L662.7 305.4 L661.8 303.7 L662.0 302.1 L662.2 300.4Z M693.4 321.5 L697.0 321.8 L696.7 324.7 L694.2 324.7Z" fill="#f5f3ee" stroke="#f5f3ee" stroke-width="0.4" stroke-linejoin="round"/>
<path d="M575.9 230.9 L576.9 231.0 L579.4 231.0 L581.4 229.9 L582.9 229.9 L584.5 230.9 L586.5 231.4 L589.5 230.6 L589.5 228.8 L587.5 227.6 L585.5 226.2 L584.6 225.5 L586.0 223.6 L587.0 222.6 L584.0 223.4 L582.9 224.7 L584.3 225.3 L582.9 226.0 L581.4 226.5 L580.6 225.0 L579.4 223.4 L578.1 224.3 L577.5 225.5 L576.6 227.2 L575.7 228.8 L575.9 230.2Z M597.0 223.6 L595.5 225.0 L595.0 226.5 L595.5 228.5 L596.5 230.2 L597.5 231.9 L597.0 233.9 L597.0 235.8 L598.6 236.4 L600.1 236.7 L602.1 236.4 L601.9 233.9 L601.0 232.6 L601.1 230.6 L600.9 229.2 L600.1 228.5 L599.3 226.5 L601.1 225.3 L601.1 223.1 L599.1 222.8Z M455.1 223.3 L458.1 221.4 L461.1 221.7 L462.5 223.6 L460.1 223.6 L457.1 223.3Z M459.3 230.3 L460.6 230.2 L461.6 226.5 L462.1 224.6 L460.6 224.6 L459.4 227.2Z M462.8 224.5 L465.6 224.3 L467.1 226.0 L465.4 228.3 L464.6 228.3 L463.8 226.5Z M463.7 230.3 L466.1 230.5 L468.1 228.8 L467.1 228.7 L464.6 229.5Z M467.3 228.1 L470.2 228.1 L471.0 227.2 L469.2 227.2Z" fill="#a8c6ee"/>
<ellipse cx="449.2" cy="214.6" rx="1.01" ry="3.03" fill="#a8c6ee" fill-opacity="0.85"/>
<ellipse cx="447.2" cy="215.4" rx="0.50" ry="1.98" fill="#a8c6ee" fill-opacity="0.85"/>
<ellipse cx="444.7" cy="205.8" rx="0.70" ry="1.89" fill="#a8c6ee" fill-opacity="0.85"/>
<ellipse cx="437.4" cy="202.2" rx="1.81" ry="0.89" fill="#a8c6ee" fill-opacity="0.85"/>
<ellipse cx="443.8" cy="204.1" rx="0.50" ry="0.96" fill="#a8c6ee" fill-opacity="0.85"/>
<ellipse cx="458.6" cy="218.6" rx="0.55" ry="0.78" fill="#a8c6ee" fill-opacity="0.85"/>
<ellipse cx="473.4" cy="216.7" rx="0.50" ry="1.45" fill="#a8c6ee" fill-opacity="0.85"/>
<ellipse cx="483.3" cy="211.7" rx="1.01" ry="0.86" fill="#a8c6ee" fill-opacity="0.85"/>
<ellipse cx="477.4" cy="211.2" rx="0.60" ry="1.04" fill="#a8c6ee" fill-opacity="0.85"/>
<ellipse cx="446.5" cy="209.1" rx="0.60" ry="0.89" fill="#a8c6ee" fill-opacity="0.85"/>
<ellipse cx="452.0" cy="207.3" rx="0.50" ry="0.73" fill="#a8c6ee" fill-opacity="0.85"/>
<ellipse cx="441.0" cy="208.2" rx="0.60" ry="0.72" fill="#a8c6ee" fill-opacity="0.85"/>
<ellipse cx="434.9" cy="204.5" rx="0.50" ry="0.96" fill="#a8c6ee" fill-opacity="0.85"/>
<ellipse cx="472.2" cy="209.1" rx="0.50" ry="0.71" fill="#a8c6ee" fill-opacity="0.85"/>
<ellipse cx="476.2" cy="206.4" rx="0.50" ry="0.74" fill="#a8c6ee" fill-opacity="0.85"/>
<ellipse cx="449.0" cy="201.6" rx="0.70" ry="0.80" fill="#a8c6ee" fill-opacity="0.85"/>
<ellipse cx="446.0" cy="198.6" rx="0.81" ry="1.05" fill="#a8c6ee" fill-opacity="0.85"/>
<ellipse cx="440.0" cy="197.5" rx="0.91" ry="1.06" fill="#a8c6ee" fill-opacity="0.85"/>
<ellipse cx="432.9" cy="197.5" rx="1.51" ry="1.28" fill="#a8c6ee" fill-opacity="0.85"/>
<ellipse cx="580.4" cy="277.6" rx="1.21" ry="1.31" fill="#a8c6ee" fill-opacity="0.85"/>
<ellipse cx="577.6" cy="283.0" rx="0.40" ry="2.22" fill="#a8c6ee" fill-opacity="0.85"/>
<ellipse cx="582.4" cy="288.8" rx="0.40" ry="1.85" fill="#a8c6ee" fill-opacity="0.85"/>
<ellipse cx="584.0" cy="272.6" rx="0.30" ry="1.01" fill="#a8c6ee" fill-opacity="0.85"/>
<ellipse cx="656.5" cy="212.6" rx="0.70" ry="3.11" fill="#a8c6ee" fill-opacity="0.85"/>
<ellipse cx="623.2" cy="223.9" rx="2.22" ry="0.59" fill="#a8c6ee" fill-opacity="0.85"/>
<ellipse cx="607.6" cy="225.7" rx="0.81" ry="1.15" fill="#a8c6ee" fill-opacity="0.85"/>
<ellipse cx="579.4" cy="199.0" rx="0.91" ry="1.46" fill="#a8c6ee" fill-opacity="0.85"/>
<ellipse cx="583.4" cy="197.1" rx="0.60" ry="1.29" fill="#a8c6ee" fill-opacity="0.85"/>
<ellipse cx="477.9" cy="292.7" rx="0.50" ry="0.52" fill="#a8c6ee" fill-opacity="0.85"/>
<ellipse cx="461.6" cy="264.9" rx="0.50" ry="0.41" fill="#a8c6ee" fill-opacity="0.85"/>
<path d="M428.9 193.2 L452.0 193.2 L452.0 204.5 L457.1 208.2 L463.1 211.7 L467.1 217.5 L471.2 218.3 L477.2 217.5 L485.3 215.1 L487.3 210.0 L483.3 200.6 L477.2 196.5 L469.2 195.4 L469.2 204.5 L467.1 210.0 L462.1 215.1 L455.1 218.3 L447.0 218.3 L436.9 213.4 L428.9 210.0Z" fill="#c5d6ee" fill-opacity="0.28"/>
<text x="514.2" y="248.6" font-size="8.3" fill="#6f92c9" text-anchor="middle" letter-spacing="0.3">Atlantic</text>
<text x="515.2" y="257.4" font-size="8.3" fill="#6f92c9" text-anchor="middle" letter-spacing="0.3">Ocean</text>
<text x="633.2" y="302.3" font-size="8.3" fill="#6f92c9" text-anchor="middle" letter-spacing="0.3">Indian</text>
<text x="634" y="311.7" font-size="8.3" fill="#6f92c9" text-anchor="middle" letter-spacing="0.3">Ocean</text>
<text x="433" y="218" font-size="9" font-weight="bold" fill="#2a2a2a" stroke="#ffffff" stroke-opacity="0.5" stroke-width="1.1" paint-order="stroke" textLength="68" lengthAdjust="spacingAndGlyphs">NORTH AMERICA</text>
<text x="566.2" y="222" font-size="8.6" font-weight="bold" fill="#2a2a2a" stroke="#ffffff" stroke-opacity="0.5" stroke-width="1.1" paint-order="stroke" textLength="30.9" lengthAdjust="spacingAndGlyphs">EUROPE</text>
<text x="649.9" y="215" font-size="8.8" font-weight="bold" fill="#2a2a2a" stroke="#ffffff" stroke-opacity="0.5" stroke-width="1.1" paint-order="stroke" textLength="18.3" lengthAdjust="spacingAndGlyphs">ASIA</text>
<text x="567.8" y="276.1" font-size="8.6" font-weight="bold" fill="#2a2a2a" stroke="#ffffff" stroke-opacity="0.5" stroke-width="1.1" paint-order="stroke" textLength="28.4" lengthAdjust="spacingAndGlyphs">AFRICA</text>
<text x="482.5" y="298.6" font-size="8.9" font-weight="bold" fill="#2a2a2a" stroke="#ffffff" stroke-opacity="0.5" stroke-width="1.1" paint-order="stroke" textLength="67" lengthAdjust="spacingAndGlyphs">SOUTH AMERICA</text>
<text x="679.6" y="305" font-size="8.9" font-weight="bold" fill="#2a2a2a" stroke="#ffffff" stroke-opacity="0.5" stroke-width="1.1" paint-order="stroke" textLength="46.4" lengthAdjust="spacingAndGlyphs">AUSTRALIA</text>
<circle cx="434.6" cy="216.6" r="2.9" fill="#4cb0e2" fill-opacity="0.72" stroke="#2286bb" stroke-width="0.9" stroke-opacity="0.9"/>
<circle cx="444.4" cy="219.2" r="2.1" fill="#7cc9ee" fill-opacity="0.85" stroke="#2286bb" stroke-width="1.0" stroke-opacity="0.95"/>
<circle cx="451.6" cy="220.5" r="2.1" fill="#7cc9ee" fill-opacity="0.85" stroke="#2286bb" stroke-width="1.0" stroke-opacity="0.95"/>
<circle cx="432.6" cy="229.7" r="2.1" fill="#7cc9ee" fill-opacity="0.85" stroke="#2286bb" stroke-width="1.0" stroke-opacity="0.95"/>
<circle cx="455.5" cy="227.1" r="3.9" fill="#4cb0e2" fill-opacity="0.72" stroke="#2286bb" stroke-width="0.9" stroke-opacity="0.9"/>
<circle cx="452.2" cy="232.3" r="4.6" fill="#4cb0e2" fill-opacity="0.72" stroke="#2286bb" stroke-width="0.9" stroke-opacity="0.9"/>
<circle cx="443.7" cy="234.9" r="3.3" fill="#4cb0e2" fill-opacity="0.72" stroke="#2286bb" stroke-width="0.9" stroke-opacity="0.9"/>
<circle cx="435.9" cy="240.8" r="5.2" fill="#4cb0e2" fill-opacity="0.72" stroke="#2286bb" stroke-width="0.9" stroke-opacity="0.9"/>
<circle cx="439.8" cy="245.4" r="4.6" fill="#4cb0e2" fill-opacity="0.72" stroke="#2286bb" stroke-width="0.9" stroke-opacity="0.9"/>
<circle cx="452.2" cy="243.5" r="4.6" fill="#4cb0e2" fill-opacity="0.72" stroke="#2286bb" stroke-width="0.9" stroke-opacity="0.9"/>
<circle cx="450.9" cy="248.7" r="3.7" fill="#4cb0e2" fill-opacity="0.72" stroke="#2286bb" stroke-width="0.9" stroke-opacity="0.9"/>
<circle cx="460.1" cy="231" r="3.3" fill="#4cb0e2" fill-opacity="0.72" stroke="#2286bb" stroke-width="0.9" stroke-opacity="0.9"/>
<circle cx="464.7" cy="233.6" r="3.9" fill="#4cb0e2" fill-opacity="0.72" stroke="#2286bb" stroke-width="0.9" stroke-opacity="0.9"/>
<circle cx="468.6" cy="229" r="2.9" fill="#4cb0e2" fill-opacity="0.72" stroke="#2286bb" stroke-width="0.9" stroke-opacity="0.9"/>
<circle cx="473.9" cy="227.7" r="2.9" fill="#4cb0e2" fill-opacity="0.72" stroke="#2286bb" stroke-width="0.9" stroke-opacity="0.9"/>
<circle cx="477.8" cy="225.1" r="2.1" fill="#7cc9ee" fill-opacity="0.85" stroke="#2286bb" stroke-width="1.0" stroke-opacity="0.95"/>
<circle cx="477.1" cy="231.7" r="2.9" fill="#4cb0e2" fill-opacity="0.72" stroke="#2286bb" stroke-width="0.9" stroke-opacity="0.9"/>
<circle cx="473.2" cy="234.9" r="3.3" fill="#4cb0e2" fill-opacity="0.72" stroke="#2286bb" stroke-width="0.9" stroke-opacity="0.9"/>
<circle cx="469.9" cy="238.9" r="3.9" fill="#4cb0e2" fill-opacity="0.72" stroke="#2286bb" stroke-width="0.9" stroke-opacity="0.9"/>
<circle cx="465.4" cy="242.8" r="4.6" fill="#4cb0e2" fill-opacity="0.72" stroke="#2286bb" stroke-width="0.9" stroke-opacity="0.9"/>
<circle cx="467.3" cy="249.4" r="7.2" fill="#4cb0e2" fill-opacity="0.72" stroke="#2286bb" stroke-width="0.9" stroke-opacity="0.9"/>
<circle cx="467.3" cy="250.5" r="3.9" fill="#4cb0e2" fill-opacity="0.72" stroke="#2286bb" stroke-width="0.9" stroke-opacity="0.9"/>
<circle cx="485.3" cy="228.1" r="2.6" fill="#4cb0e2" fill-opacity="0.72" stroke="#2286bb" stroke-width="0.9" stroke-opacity="0.9"/>
<circle cx="458.1" cy="238.9" r="3.9" fill="#4cb0e2" fill-opacity="0.72" stroke="#2286bb" stroke-width="0.9" stroke-opacity="0.9"/>
<circle cx="433" cy="238" r="3.9" fill="#4cb0e2" fill-opacity="0.72" stroke="#2286bb" stroke-width="0.9" stroke-opacity="0.9"/>
<circle cx="447" cy="241" r="3" fill="#4cb0e2" fill-opacity="0.72" stroke="#2286bb" stroke-width="0.9" stroke-opacity="0.9"/>
<circle cx="456" cy="236" r="3" fill="#4cb0e2" fill-opacity="0.72" stroke="#2286bb" stroke-width="0.9" stroke-opacity="0.9"/>
<circle cx="462" cy="246" r="3" fill="#4cb0e2" fill-opacity="0.72" stroke="#2286bb" stroke-width="0.9" stroke-opacity="0.9"/>
<circle cx="471" cy="243" r="3" fill="#4cb0e2" fill-opacity="0.72" stroke="#2286bb" stroke-width="0.9" stroke-opacity="0.9"/>
<circle cx="445" cy="228" r="2.5" fill="#4cb0e2" fill-opacity="0.72" stroke="#2286bb" stroke-width="0.9" stroke-opacity="0.9"/>
<circle cx="449" cy="226" r="2.3000000000000003" fill="#7cc9ee" fill-opacity="0.85" stroke="#2286bb" stroke-width="1.0" stroke-opacity="0.95"/>
<circle cx="463" cy="238" r="2.6" fill="#4cb0e2" fill-opacity="0.72" stroke="#2286bb" stroke-width="0.9" stroke-opacity="0.9"/>
<circle cx="475" cy="238" r="2.6" fill="#4cb0e2" fill-opacity="0.72" stroke="#2286bb" stroke-width="0.9" stroke-opacity="0.9"/>
<circle cx="470" cy="233" r="2.4" fill="#4cb0e2" fill-opacity="0.72" stroke="#2286bb" stroke-width="0.9" stroke-opacity="0.9"/>
<circle cx="440" cy="237" r="2.6" fill="#4cb0e2" fill-opacity="0.72" stroke="#2286bb" stroke-width="0.9" stroke-opacity="0.9"/>
<circle cx="431.5" cy="244" r="4" fill="#4cb0e2" fill-opacity="0.72" stroke="#2286bb" stroke-width="0.9" stroke-opacity="0.9"/>
<circle cx="443" cy="249" r="2.5" fill="#4cb0e2" fill-opacity="0.72" stroke="#2286bb" stroke-width="0.9" stroke-opacity="0.9"/>
<circle cx="459" cy="243" r="2.6" fill="#4cb0e2" fill-opacity="0.72" stroke="#2286bb" stroke-width="0.9" stroke-opacity="0.9"/>
<circle cx="454" cy="239" r="2.4" fill="#4cb0e2" fill-opacity="0.72" stroke="#2286bb" stroke-width="0.9" stroke-opacity="0.9"/>
<circle cx="466" cy="237" r="2.3000000000000003" fill="#7cc9ee" fill-opacity="0.85" stroke="#2286bb" stroke-width="1.0" stroke-opacity="0.95"/>
<circle cx="559.7" cy="203" r="2.1" fill="#7cc9ee" fill-opacity="0.85" stroke="#2286bb" stroke-width="1.0" stroke-opacity="0.95"/>
<circle cx="567.2" cy="204.2" r="2.1" fill="#7cc9ee" fill-opacity="0.85" stroke="#2286bb" stroke-width="1.0" stroke-opacity="0.95"/>
<circle cx="573.9" cy="202.4" r="2.1" fill="#7cc9ee" fill-opacity="0.85" stroke="#2286bb" stroke-width="1.0" stroke-opacity="0.95"/>
<circle cx="546.2" cy="209.2" r="2.1" fill="#7cc9ee" fill-opacity="0.85" stroke="#2286bb" stroke-width="1.0" stroke-opacity="0.95"/>
<circle cx="561.6" cy="211" r="2.1" fill="#7cc9ee" fill-opacity="0.85" stroke="#2286bb" stroke-width="1.0" stroke-opacity="0.95"/>
<circle cx="540.2" cy="216.2" r="2.1" fill="#7cc9ee" fill-opacity="0.85" stroke="#2286bb" stroke-width="1.0" stroke-opacity="0.95"/>
<circle cx="543.2" cy="214.7" r="2.1" fill="#7cc9ee" fill-opacity="0.85" stroke="#2286bb" stroke-width="1.0" stroke-opacity="0.95"/>
<circle cx="545.8" cy="217" r="2.1" fill="#7cc9ee" fill-opacity="0.85" stroke="#2286bb" stroke-width="1.0" stroke-opacity="0.95"/>
<circle cx="548.8" cy="217.3" r="2.1" fill="#7cc9ee" fill-opacity="0.85" stroke="#2286bb" stroke-width="1.0" stroke-opacity="0.95"/>
<circle cx="554.2" cy="216.2" r="2.1" fill="#7cc9ee" fill-opacity="0.85" stroke="#2286bb" stroke-width="1.0" stroke-opacity="0.95"/>
<circle cx="559.3" cy="214.4" r="2.1" fill="#7cc9ee" fill-opacity="0.85" stroke="#2286bb" stroke-width="1.0" stroke-opacity="0.95"/>
<circle cx="562.7" cy="216.5" r="2.1" fill="#7cc9ee" fill-opacity="0.85" stroke="#2286bb" stroke-width="1.0" stroke-opacity="0.95"/>
<circle cx="556.3" cy="224.8" r="2.1" fill="#7cc9ee" fill-opacity="0.85" stroke="#2286bb" stroke-width="1.0" stroke-opacity="0.95"/>
<circle cx="560.1" cy="224.2" r="2.1" fill="#7cc9ee" fill-opacity="0.85" stroke="#2286bb" stroke-width="1.0" stroke-opacity="0.95"/>
<circle cx="558.2" cy="227.2" r="2.1" fill="#7cc9ee" fill-opacity="0.85" stroke="#2286bb" stroke-width="1.0" stroke-opacity="0.95"/>
<circle cx="561.9" cy="227.5" r="2.1" fill="#7cc9ee" fill-opacity="0.85" stroke="#2286bb" stroke-width="1.0" stroke-opacity="0.95"/>
<circle cx="545.5" cy="233.7" r="2.1" fill="#7cc9ee" fill-opacity="0.85" stroke="#2286bb" stroke-width="1.0" stroke-opacity="0.95"/>
<circle cx="578" cy="233.1" r="2.6" fill="#4cb0e2" fill-opacity="0.8" stroke="#2286bb" stroke-width="0.9" stroke-opacity="0.9"/>
<circle cx="580.4" cy="246.5" r="2.4" fill="#4cb0e2" fill-opacity="0.8" stroke="#2286bb" stroke-width="0.9" stroke-opacity="0.9"/>
<circle cx="576.9" cy="305.4" r="2.4" fill="#4cb0e2" fill-opacity="0.8" stroke="#2286bb" stroke-width="0.9" stroke-opacity="0.9"/>
<circle cx="625" cy="249.9" r="2.1" fill="#7cc9ee" fill-opacity="0.85" stroke="#2286bb" stroke-width="1.0" stroke-opacity="0.95"/>
<circle cx="622.9" cy="259.4" r="2.1" fill="#7cc9ee" fill-opacity="0.85" stroke="#2286bb" stroke-width="1.0" stroke-opacity="0.95"/>
<circle cx="627.7" cy="260.7" r="2.1" fill="#7cc9ee" fill-opacity="0.85" stroke="#2286bb" stroke-width="1.0" stroke-opacity="0.95"/>
<circle cx="665.6" cy="234.6" r="2.5" fill="#4cb0e2" fill-opacity="0.8" stroke="#2286bb" stroke-width="0.9" stroke-opacity="0.9"/>
<circle cx="665.9" cy="235.3" r="1.5" fill="#7cc9ee" fill-opacity="0.85" stroke="#2286bb" stroke-width="1.0" stroke-opacity="0.95"/>
<circle cx="676.4" cy="237.5" r="2.1" fill="#7cc9ee" fill-opacity="0.85" stroke="#2286bb" stroke-width="1.0" stroke-opacity="0.95"/>
<circle cx="678.2" cy="240.6" r="2.1" fill="#7cc9ee" fill-opacity="0.85" stroke="#2286bb" stroke-width="1.0" stroke-opacity="0.95"/>
<circle cx="689.1" cy="240.2" r="2.3000000000000003" fill="#7cc9ee" fill-opacity="0.85" stroke="#2286bb" stroke-width="1.0" stroke-opacity="0.95"/>
<circle cx="670.7" cy="245.4" r="2.1" fill="#7cc9ee" fill-opacity="0.85" stroke="#2286bb" stroke-width="1.0" stroke-opacity="0.95"/>
<circle cx="663.2" cy="254.7" r="2.6" fill="#4cb0e2" fill-opacity="0.8" stroke="#2286bb" stroke-width="0.9" stroke-opacity="0.9"/>
<circle cx="663.2" cy="254.7" r="1.6" fill="#7cc9ee" fill-opacity="0.85" stroke="#2286bb" stroke-width="1.0" stroke-opacity="0.95"/>
<circle cx="655.1" cy="256.7" r="2.1" fill="#7cc9ee" fill-opacity="0.85" stroke="#2286bb" stroke-width="1.0" stroke-opacity="0.95"/>
<circle cx="649.4" cy="264.2" r="2.1" fill="#7cc9ee" fill-opacity="0.85" stroke="#2286bb" stroke-width="1.0" stroke-opacity="0.95"/>
<circle cx="655.7" cy="267.2" r="2.1" fill="#7cc9ee" fill-opacity="0.85" stroke="#2286bb" stroke-width="1.0" stroke-opacity="0.95"/>
<circle cx="653.2" cy="276.8" r="2.1" fill="#7cc9ee" fill-opacity="0.85" stroke="#2286bb" stroke-width="1.0" stroke-opacity="0.95"/>
<circle cx="656.2" cy="284.4" r="2.1" fill="#7cc9ee" fill-opacity="0.85" stroke="#2286bb" stroke-width="1.0" stroke-opacity="0.95"/>
<circle cx="700.7" cy="314.4" r="2.1" fill="#7cc9ee" fill-opacity="0.85" stroke="#2286bb" stroke-width="1.0" stroke-opacity="0.95"/>
<path d="M435.9 305.2 V314.1 L441.9 310.6 L438 308.9" fill="none" stroke="#111c30" stroke-width="2.1" stroke-linejoin="round" stroke-linecap="round"/>
<text x="446.2" y="313.4" font-size="9.6" fill="#26354d" stroke="#26354d" stroke-width="0.3" textLength="17.1" lengthAdjust="spacingAndGlyphs">Bing</text>
<text x="542.5" y="317.8" font-size="6.3" fill="#333" stroke="#fff" stroke-opacity="0.6" stroke-width="1" paint-order="stroke">© 2019 HERE, © 2019 Microsoft Corporation</text>
<text x="672.5" y="317.8" font-size="6.3" fill="#3a6ea5" text-decoration="underline">Terms</text>
</g>
<rect x="169.5" y="329.3" width="540.0" height="177.7" fill="#fff" stroke="#f2f2f2" stroke-width="1"/>
<text x="174.00" y="340.40" font-size="9.2" fill="#7b7b7b" font-weight="bold" text-anchor="start" >Total Sales - Trend</text>
<circle cx="177.5" cy="356.2" r="3.2" fill="#5bb5e2"/>
<text x="182.70" y="359.00" font-size="7.6" fill="#666" font-weight="normal" text-anchor="start" textLength="19.4" lengthAdjust="spacingAndGlyphs">Actual</text>
<circle cx="209.4" cy="356.2" r="3.2" fill="#b2d655"/>
<text x="214.70" y="359.00" font-size="7.6" fill="#666" font-weight="normal" text-anchor="start" textLength="29.1" lengthAdjust="spacingAndGlyphs">Actual LY</text>
<circle cx="250.6" cy="356.2" r="3.2" fill="#f6b963"/>
<text x="255.90" y="359.00" font-size="7.6" fill="#666" font-weight="normal" text-anchor="start" textLength="23.9" lengthAdjust="spacingAndGlyphs">Budget</text>
<rect x="195.5" y="384.1" width="510.5" height="1" fill="#f0f0f0"/>
<text x="189.50" y="387.40" font-size="7.6" fill="#858585" font-weight="normal" text-anchor="end" >$4M</text>
<rect x="195.5" y="409.9" width="510.5" height="1" fill="#f0f0f0"/>
<text x="189.50" y="413.20" font-size="7.6" fill="#858585" font-weight="normal" text-anchor="end" >$3M</text>
<rect x="195.5" y="435.8" width="510.5" height="1" fill="#f0f0f0"/>
<text x="189.50" y="439.10" font-size="7.6" fill="#858585" font-weight="normal" text-anchor="end" >$2M</text>
<rect x="195.5" y="461.7" width="510.5" height="1" fill="#f0f0f0"/>
<text x="189.50" y="465.00" font-size="7.6" fill="#858585" font-weight="normal" text-anchor="end" >$1M</text>
<rect x="195.5" y="487.7" width="510.5" height="1" fill="#f0f0f0"/>
<text x="189.50" y="491.00" font-size="7.6" fill="#858585" font-weight="normal" text-anchor="end" >$0M</text>
<rect x="217.70" y="411.6" width="20.8" height="76.60" fill="#5bb5e2"/>
<rect x="238.50" y="425.8" width="20.8" height="62.40" fill="#b2d655"/>
<text x="238.50" y="499.30" font-size="7.35" fill="#6e6e6e" font-weight="normal" text-anchor="middle" >January</text>
<rect x="270.85" y="418.9" width="20.8" height="69.30" fill="#5bb5e2"/>
<rect x="291.65" y="423.4" width="20.8" height="64.80" fill="#b2d655"/>
<text x="291.65" y="499.30" font-size="7.35" fill="#6e6e6e" font-weight="normal" text-anchor="middle" >February</text>
<rect x="324.00" y="414.4" width="20.8" height="73.80" fill="#5bb5e2"/>
<rect x="344.80" y="423.4" width="20.8" height="64.80" fill="#b2d655"/>
<text x="344.80" y="499.30" font-size="7.35" fill="#6e6e6e" font-weight="normal" text-anchor="middle" >March</text>
<rect x="377.15" y="423" width="20.8" height="65.20" fill="#5bb5e2"/>
<rect x="397.95" y="415.8" width="20.8" height="72.40" fill="#b2d655"/>
<text x="397.95" y="499.30" font-size="7.35" fill="#6e6e6e" font-weight="normal" text-anchor="middle" >April</text>
<rect x="430.30" y="426.2" width="20.8" height="62.00" fill="#5bb5e2"/>
<rect x="451.10" y="418.6" width="20.8" height="69.60" fill="#b2d655"/>
<text x="451.10" y="499.30" font-size="7.35" fill="#6e6e6e" font-weight="normal" text-anchor="middle" >May</text>
<rect x="483.45" y="398.5" width="20.8" height="89.70" fill="#5bb5e2"/>
<rect x="504.25" y="407.5" width="20.8" height="80.70" fill="#b2d655"/>
<text x="504.25" y="499.30" font-size="7.35" fill="#6e6e6e" font-weight="normal" text-anchor="middle" >June</text>
<rect x="536.60" y="402.6" width="20.8" height="85.60" fill="#5bb5e2"/>
<rect x="557.40" y="404" width="20.8" height="84.20" fill="#b2d655"/>
<text x="557.40" y="499.30" font-size="7.35" fill="#6e6e6e" font-weight="normal" text-anchor="middle" >July</text>
<rect x="589.75" y="400.5" width="20.8" height="87.70" fill="#5bb5e2"/>
<rect x="610.55" y="423.1" width="20.8" height="65.10" fill="#b2d655"/>
<text x="610.55" y="499.30" font-size="7.35" fill="#6e6e6e" font-weight="normal" text-anchor="middle" >August</text>
<rect x="642.90" y="391.9" width="20.8" height="96.30" fill="#5bb5e2"/>
<rect x="663.70" y="417.5" width="20.8" height="70.70" fill="#b2d655"/>
<text x="663.70" y="499.30" font-size="7.35" fill="#6e6e6e" font-weight="normal" text-anchor="middle" >September</text>
<path d="M238.5 401.9 C240.6 402.1 287.4 406.5 291.6 407.1 C295.9 407.7 340.5 417.2 344.8 417.9 C349.1 418.6 393.7 424.5 397.9 424.8 C402.2 425.1 446.8 426.4 451.1 425.5 C455.4 424.6 500.0 402.3 504.2 401.2 C508.5 400.1 553.1 397.9 557.4 398.1 C561.7 398.3 606.3 406.5 610.5 405.4 C614.8 404.3 661.6 372.8 663.7 371.4" fill="none" stroke="#f6b963" stroke-width="2.2" stroke-linejoin="round" stroke-linecap="round"/>
<rect x="713.2" y="32.7" width="213.39999999999998" height="225.3" fill="#fff" stroke="#f2f2f2" stroke-width="1"/>
<text x="717.80" y="43.60" font-size="9.2" fill="#7b7b7b" font-weight="bold" text-anchor="start" >Sales by Product - Year-to-Date</text>
<path d="M821.00 86.80 A65.3 65.3 0 0 1 875.52 116.15 L853.89 130.41 A39.4 39.4 0 0 0 821.00 112.70Z" fill="#5bb5e2"/>
<path d="M875.52 116.15 A65.3 65.3 0 0 1 881.11 177.61 L857.27 167.49 A39.4 39.4 0 0 0 853.89 130.41Z" fill="#b2d655"/>
<path d="M881.11 177.61 A65.3 65.3 0 0 1 832.23 216.43 L827.77 190.91 A39.4 39.4 0 0 0 857.27 167.49Z" fill="#f9c36a"/>
<path d="M832.23 216.43 A65.3 65.3 0 0 1 773.63 197.05 L792.42 179.22 A39.4 39.4 0 0 0 827.77 190.91Z" fill="#a3abb0"/>
<path d="M773.63 197.05 A65.3 65.3 0 0 1 757.13 165.68 L782.46 160.29 A39.4 39.4 0 0 0 792.42 179.22Z" fill="#1e82b8"/>
<path d="M757.13 165.68 A65.3 65.3 0 0 1 759.33 130.63 L783.79 139.14 A39.4 39.4 0 0 0 782.46 160.29Z" fill="#6f9a25"/>
<path d="M759.33 130.63 A65.3 65.3 0 0 1 779.55 101.64 L795.99 121.65 A39.4 39.4 0 0 0 783.79 139.14Z" fill="#e2980f"/>
<path d="M779.55 101.64 A65.3 65.3 0 0 1 812.36 87.37 L815.79 113.05 A39.4 39.4 0 0 0 795.99 121.65Z" fill="#67747c"/>
<path d="M812.36 87.37 A65.3 65.3 0 0 1 818.04 86.87 L819.21 112.74 A39.4 39.4 0 0 0 815.79 113.05Z" fill="#aadcf2"/>
<path d="M818.04 86.87 A65.3 65.3 0 0 1 821.00 86.80 L821.00 112.70 A39.4 39.4 0 0 0 819.21 112.74Z" fill="#d2e9a0"/>
<text x="867.60" y="91.00" font-size="8.0" fill="#6e6e6e" font-weight="normal" text-anchor="start" textLength="39.6" lengthAdjust="spacingAndGlyphs">Dashboards</text>
<polyline points="852.9,92.2 857.4,87.6 864.9,87.6" fill="none" stroke="#b0b0b0" stroke-width="0.8"/>
<text x="901.70" y="131.20" font-size="8.0" fill="#6e6e6e" font-weight="normal" text-anchor="start" textLength="22" lengthAdjust="spacingAndGlyphs">Data ...</text>
<polyline points="885.0,130.0 893.0,128.4 899.0,128.4" fill="none" stroke="#b0b0b0" stroke-width="0.8"/>
<text x="878.50" y="213.10" font-size="8.0" fill="#6e6e6e" font-weight="normal" text-anchor="start" textLength="29.3" lengthAdjust="spacingAndGlyphs">Planning</text>
<polyline points="864.0,204.0 870.0,210.3 876.0,210.3" fill="none" stroke="#b0b0b0" stroke-width="0.8"/>
<text x="754.40" y="226.60" font-size="8.0" fill="#6e6e6e" font-weight="normal" text-anchor="start" textLength="32.4" lengthAdjust="spacingAndGlyphs">Reporting</text>
<polyline points="801.0,216.7 798.7,223.3 791.2,223.5" fill="none" stroke="#b0b0b0" stroke-width="0.8"/>
<text x="719.70" y="199.60" font-size="8.0" fill="#6e6e6e" font-weight="normal" text-anchor="start" textLength="29" lengthAdjust="spacingAndGlyphs">Consult...</text>
<polyline points="768.0,192.0 760.0,196.8 752.0,196.8" fill="none" stroke="#b0b0b0" stroke-width="0.8"/>
<text x="719.70" y="142.30" font-size="8.0" fill="#6e6e6e" font-weight="normal" text-anchor="start" textLength="16.2" lengthAdjust="spacingAndGlyphs">Cus...</text>
<polyline points="755.0,142.0 747.0,139.5 740.0,139.5" fill="none" stroke="#b0b0b0" stroke-width="0.8"/>
<text x="721.00" y="106.30" font-size="8.0" fill="#6e6e6e" font-weight="normal" text-anchor="start" textLength="33.4" lengthAdjust="spacingAndGlyphs">Other Se...</text>
<polyline points="771.0,108.0 765.0,103.5 757.0,103.5" fill="none" stroke="#b0b0b0" stroke-width="0.8"/>
<text x="721.70" y="88.40" font-size="8.0" fill="#6e6e6e" font-weight="normal" text-anchor="start" textLength="57.3" lengthAdjust="spacingAndGlyphs">Training Services</text>
<polyline points="793.0,91.0 789.0,85.6 782.0,85.6" fill="none" stroke="#b0b0b0" stroke-width="0.8"/>
<text x="789.10" y="82.00" font-size="8.0" fill="#6e6e6e" font-weight="normal" text-anchor="start" textLength="17.9" lengthAdjust="spacingAndGlyphs">Other</text>
<polyline points="819.5,86.0 819.5,79.2 810.0,79.2" fill="none" stroke="#b0b0b0" stroke-width="0.8"/>
<rect x="713.2" y="260.5" width="213.39999999999998" height="246.5" fill="#fff" stroke="#f2f2f2" stroke-width="1"/>
<text x="717.80" y="271.80" font-size="9.2" fill="#7b7b7b" font-weight="bold" text-anchor="start" >Sales by Person  - Year-to-Date</text>
<path d="M820.80 329.00 A62.4 62.4 0 0 1 861.16 343.81 L845.25 362.57 A37.8 37.8 0 0 0 820.80 353.60Z" fill="#5bb5e2"/>
<path d="M861.16 343.81 A62.4 62.4 0 0 1 881.60 377.36 L857.63 382.90 A37.8 37.8 0 0 0 845.25 362.57Z" fill="#b2d655"/>
<path d="M881.60 377.36 A62.4 62.4 0 0 1 878.57 414.98 L855.80 405.68 A37.8 37.8 0 0 0 857.63 382.90Z" fill="#f9c36a"/>
<path d="M878.57 414.98 A62.4 62.4 0 0 1 857.65 441.75 L843.12 421.90 A37.8 37.8 0 0 0 855.80 405.68Z" fill="#a3abb0"/>
<path d="M857.65 441.75 A62.4 62.4 0 0 1 831.64 452.85 L827.36 428.63 A37.8 37.8 0 0 0 843.12 421.90Z" fill="#1e82b8"/>
<path d="M831.64 452.85 A62.4 62.4 0 0 1 804.65 451.67 L811.02 427.91 A37.8 37.8 0 0 0 827.36 428.63Z" fill="#6f9a25"/>
<path d="M804.65 451.67 A62.4 62.4 0 0 1 781.53 439.89 L797.01 420.78 A37.8 37.8 0 0 0 811.02 427.91Z" fill="#e2980f"/>
<path d="M781.53 439.89 A62.4 62.4 0 0 1 770.00 427.64 L790.03 413.35 A37.8 37.8 0 0 0 797.01 420.78Z" fill="#67747c"/>
<path d="M770.00 427.64 A62.4 62.4 0 0 1 762.35 413.25 L785.39 404.64 A37.8 37.8 0 0 0 790.03 413.35Z" fill="#aadcf2"/>
<path d="M762.35 413.25 A62.4 62.4 0 0 1 758.74 397.92 L783.21 395.35 A37.8 37.8 0 0 0 785.39 404.64Z" fill="#cfe89b"/>
<path d="M758.74 397.92 A62.4 62.4 0 0 1 759.31 380.78 L783.55 384.97 A37.8 37.8 0 0 0 783.21 395.35Z" fill="#fde0b3"/>
<path d="M759.31 380.78 A62.4 62.4 0 0 1 763.75 366.12 L786.24 376.09 A37.8 37.8 0 0 0 783.55 384.97Z" fill="#d7dbdd"/>
<path d="M763.75 366.12 A62.4 62.4 0 0 1 771.63 352.98 L791.01 368.13 A37.8 37.8 0 0 0 786.24 376.09Z" fill="#f56f6c"/>
<path d="M771.63 352.98 A62.4 62.4 0 0 1 782.04 342.50 L797.32 361.78 A37.8 37.8 0 0 0 791.01 368.13Z" fill="#f5c94c"/>
<path d="M782.04 342.50 A62.4 62.4 0 0 1 785.53 339.93 L799.43 360.22 A37.8 37.8 0 0 0 797.32 361.78Z" fill="#5d6b66"/>
<path d="M785.53 339.93 A62.4 62.4 0 0 1 789.18 337.60 L801.65 358.81 A37.8 37.8 0 0 0 799.43 360.22Z" fill="#a9d0ee"/>
<path d="M789.18 337.60 A62.4 62.4 0 0 1 792.03 336.03 L803.37 357.86 A37.8 37.8 0 0 0 801.65 358.81Z" fill="#e9a898"/>
<path d="M792.03 336.03 A62.4 62.4 0 0 1 794.56 334.79 L804.90 357.11 A37.8 37.8 0 0 0 803.37 357.86Z" fill="#b388a6"/>
<path d="M794.56 334.79 A62.4 62.4 0 0 1 797.54 333.50 L806.71 356.32 A37.8 37.8 0 0 0 804.90 357.11Z" fill="#2d5d6a"/>
<path d="M797.54 333.50 A62.4 62.4 0 0 1 800.79 332.29 L808.68 355.60 A37.8 37.8 0 0 0 806.71 356.32Z" fill="#4f8c8f"/>
<path d="M800.79 332.29 A62.4 62.4 0 0 1 803.06 331.57 L810.06 355.16 A37.8 37.8 0 0 0 808.68 355.60Z" fill="#2f3a3a"/>
<path d="M803.06 331.57 A62.4 62.4 0 0 1 806.20 330.73 L811.96 354.65 A37.8 37.8 0 0 0 810.06 355.16Z" fill="#c28a45"/>
<path d="M806.20 330.73 A62.4 62.4 0 0 1 808.53 330.22 L813.37 354.34 A37.8 37.8 0 0 0 811.96 354.65Z" fill="#5f6a3a"/>
<path d="M808.53 330.22 A62.4 62.4 0 0 1 811.30 329.73 L815.05 354.04 A37.8 37.8 0 0 0 813.37 354.34Z" fill="#7f93a8"/>
<path d="M811.30 329.73 A62.4 62.4 0 0 1 814.10 329.36 L816.74 353.82 A37.8 37.8 0 0 0 815.05 354.04Z" fill="#8a7f95"/>
<path d="M814.10 329.36 A62.4 62.4 0 0 1 816.47 329.15 L818.18 353.69 A37.8 37.8 0 0 0 816.74 353.82Z" fill="#4a5358"/>
<path d="M816.47 329.15 A62.4 62.4 0 0 1 818.63 329.04 L819.49 353.62 A37.8 37.8 0 0 0 818.18 353.69Z" fill="#6d7a72"/>
<path d="M818.63 329.04 A62.4 62.4 0 0 1 820.80 329.00 L820.80 353.60 A37.8 37.8 0 0 0 819.49 353.62Z" fill="#3c4a4d"/>
<text x="856.56" y="328.98" font-size="8.0" fill="#6e6e6e" font-weight="normal" text-anchor="start" textLength="34.4" lengthAdjust="spacingAndGlyphs">Riley Cust</text>
<polyline points="844.8,333.6 848.1,326.2 853.9,326.2" fill="none" stroke="#b0b0b0" stroke-width="0.8"/>
<text x="886.89" y="349.87" font-size="8.0" fill="#6e6e6e" font-weight="normal" text-anchor="start" textLength="34.4" lengthAdjust="spacingAndGlyphs">Kevin Stu...</text>
<polyline points="873.4,352.1 879.1,347.1 884.5,347.1" fill="none" stroke="#b0b0b0" stroke-width="0.8"/>
<text x="901.05" y="412.56" font-size="8.0" fill="#6e6e6e" font-weight="normal" text-anchor="start" textLength="19.5" lengthAdjust="spacingAndGlyphs">Jorg...</text>
<polyline points="885.2,407.7 891.9,409.8 898.7,409.8" fill="none" stroke="#b0b0b0" stroke-width="0.8"/>
<text x="882.51" y="444.92" font-size="8.0" fill="#6e6e6e" font-weight="normal" text-anchor="start" textLength="38.8" lengthAdjust="spacingAndGlyphs">Hailey Bra...</text>
<polyline points="866.7,435.4 871.7,442.1 880.1,442.1" fill="none" stroke="#b0b0b0" stroke-width="0.8"/>
<text x="859.93" y="459.75" font-size="8.0" fill="#6e6e6e" font-weight="normal" text-anchor="start" textLength="39.4" lengthAdjust="spacingAndGlyphs">Aria Hafner</text>
<polyline points="845.8,450.9 849.1,456.9 857.2,456.9" fill="none" stroke="#b0b0b0" stroke-width="0.8"/>
<text x="749.38" y="465.14" font-size="8.0" fill="#6e6e6e" font-weight="normal" text-anchor="start" textLength="56.6" lengthAdjust="spacingAndGlyphs">Johnny Sweeney</text>
<polyline points="817.8,454.9 817.1,462.3 808.7,462.3" fill="none" stroke="#b0b0b0" stroke-width="0.8"/>
<text x="729.16" y="453.68" font-size="8.0" fill="#6e6e6e" font-weight="normal" text-anchor="start" textLength="43.1" lengthAdjust="spacingAndGlyphs">Neftali Crisp</text>
<polyline points="787.5,444.1 782.4,450.9 775.0,450.9" fill="none" stroke="#b0b0b0" stroke-width="0.8"/>
<text x="718.37" y="440.20" font-size="8.0" fill="#6e6e6e" font-weight="normal" text-anchor="start" textLength="37.1" lengthAdjust="spacingAndGlyphs">Kurt Stults</text>
<polyline points="770.6,433.0 765.6,437.4 758.1,437.4" fill="none" stroke="#b0b0b0" stroke-width="0.8"/>
<text x="719.72" y="428.40" font-size="8.0" fill="#6e6e6e" font-weight="normal" text-anchor="start" textLength="29.0" lengthAdjust="spacingAndGlyphs">Mila St...</text>
<polyline points="763.9,422.9 758.1,425.6 750.4,425.6" fill="none" stroke="#b0b0b0" stroke-width="0.8"/>
<text x="719.72" y="414.92" font-size="8.0" fill="#6e6e6e" font-weight="normal" text-anchor="start" textLength="22.2" lengthAdjust="spacingAndGlyphs">Jorge...</text>
<polyline points="758.8,409.4 752.1,412.1 744.7,412.1" fill="none" stroke="#b0b0b0" stroke-width="0.8"/>
<text x="721.07" y="387.62" font-size="8.0" fill="#6e6e6e" font-weight="normal" text-anchor="start" textLength="18.5" lengthAdjust="spacingAndGlyphs">Bria...</text>
<polyline points="757.1,384.8 742.0,384.8" fill="none" stroke="#b0b0b0" stroke-width="0.8"/>
<text x="718.37" y="370.77" font-size="8.0" fill="#6e6e6e" font-weight="normal" text-anchor="start" textLength="25.3" lengthAdjust="spacingAndGlyphs">Christ...</text>
<polyline points="759.8,370.7 753.8,368.0 746.0,368.0" fill="none" stroke="#b0b0b0" stroke-width="0.8"/>
<text x="719.72" y="355.60" font-size="8.0" fill="#6e6e6e" font-weight="normal" text-anchor="start" textLength="29.7" lengthAdjust="spacingAndGlyphs">Casey G...</text>
<polyline points="765.6,357.2 760.5,352.8 752.1,352.8" fill="none" stroke="#b0b0b0" stroke-width="0.8"/>
<text x="721.07" y="343.13" font-size="8.0" fill="#6e6e6e" font-weight="normal" text-anchor="start" textLength="41.1" lengthAdjust="spacingAndGlyphs">Elizabeth L...</text>
<polyline points="775.7,343.7 772.3,340.3 764.9,340.3" fill="none" stroke="#b0b0b0" stroke-width="0.8"/>
<text x="734.55" y="332.35" font-size="8.0" fill="#6e6e6e" font-weight="normal" text-anchor="start" textLength="41.1" lengthAdjust="spacingAndGlyphs">Tim Santana</text>
<polyline points="789.1,335.3 785.8,329.5 778.4,329.5" fill="none" stroke="#b0b0b0" stroke-width="0.8"/>
</svg></body></html>
